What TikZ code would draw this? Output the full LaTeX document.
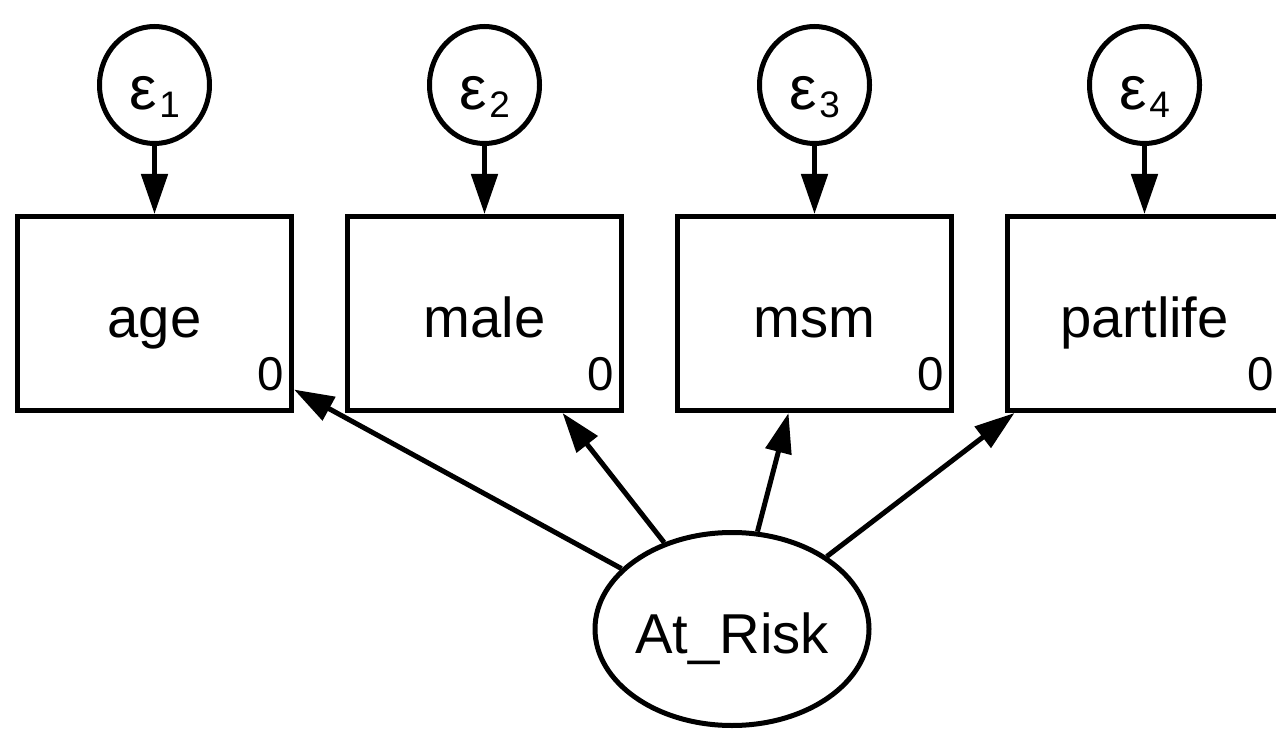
\documentclass[tikz,border=0pt]{standalone}
\usepackage{fontspec}
\setmainfont{Liberation Sans}
\usetikzlibrary{shapes.geometric,arrows.meta}

\newcommand{\errlab}[1]{{\fontsize{35}{40}\selectfont ε}\kern0.05em\raisebox{-0.14em}{\fontsize{21}{24}\selectfont #1}}

\begin{document}
\begin{tikzpicture}[
    line width=0.1cm,
    obsbox/.style={draw, rectangle, minimum width=5.48cm, minimum height=3.88cm,
        font=\fontsize{32}{38}\selectfont, text height=1.3cm, text depth=0.32cm},
    errnode/.style={draw, ellipse, inner sep=0pt, minimum width=2.2cm, minimum height=2.34cm,
        font=\fontsize{32}{38}\selectfont, text height=1.3cm, text depth=0.32cm},
    latnode/.style={draw, ellipse, inner sep=0pt, minimum width=5.48cm, minimum height=3.86cm,
        font=\fontsize{32}{38}\selectfont, text height=1.3cm, text depth=0.32cm},
    zero/.style={anchor=south east, inner sep=0pt, font=\fontsize{27}{31}\selectfont},
    path/.style={-{Triangle[length=0.8cm, width=0.52cm]}}
]
            \useasboundingbox (0, 0) rectangle (25.52, 14.6);
            \node[obsbox] (age) at (3.09, 8.33) {age};
            \node[obsbox] (male) at (9.69, 8.33) {male};
            \node[obsbox] (msm) at (16.29, 8.33) {msm};
            \node[obsbox] (partlife) at (22.89, 8.33) {partlife};
            \node[zero] (age0) at ([shift={(-0.15, 0.4)}]age.south east) {0};
            \node[zero] (male0) at ([shift={(-0.15, 0.4)}]male.south east) {0};
            \node[zero] (msm0) at ([shift={(-0.15, 0.4)}]msm.south east) {0};
            \node[zero] (partlife0) at ([shift={(-0.15, 0.4)}]partlife.south east) {0};
            \node[errnode] (e1) at (3.09, 12.9) {\errlab{1}};
            \node[errnode] (e2) at (9.69, 12.9) {\errlab{2}};
            \node[errnode] (e3) at (16.29, 12.9) {\errlab{3}};
            \node[errnode] (e4) at (22.89, 12.9) {\errlab{4}};
            \node[latnode] (risk) at (14.64, 2.02) {At\_Risk};
            \draw[path] (e1) -- (age);
            \draw[path] (e2) -- (male);
            \draw[path] (e3) -- (msm);
            \draw[path] (e4) -- (partlife);
            \draw[path] (risk) -- (age);
            \draw[path] (risk) -- (male);
            \draw[path] (risk) -- (msm);
            \draw[path] (risk) -- (partlife);
        \end{tikzpicture}
\end{document}
